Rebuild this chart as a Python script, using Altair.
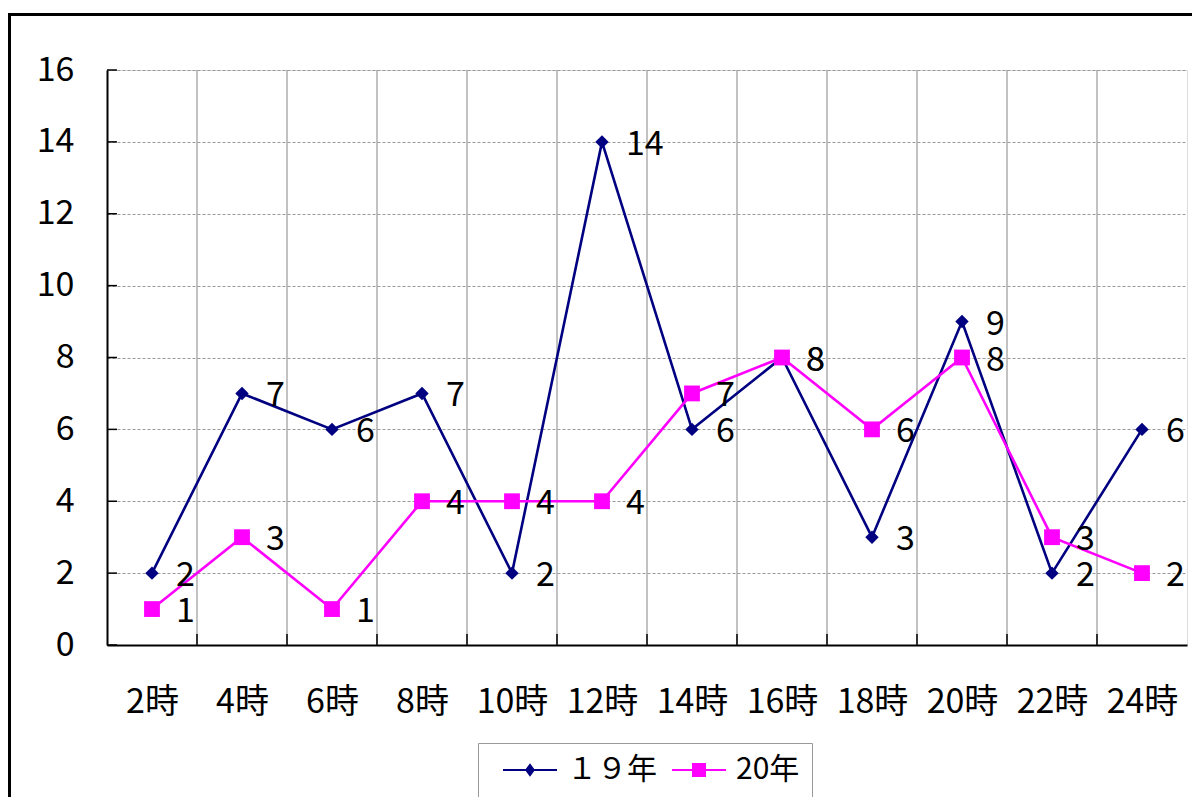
import altair as alt
import pandas as pd

hours = [2, 4, 6, 8, 10, 12, 14, 16, 18, 20, 22, 24]
series_names = ["１９年", "20年"]
values_19 = [2, 7, 6, 7, 2, 14, 6, 8, 3, 9, 2, 6]
values_20 = [1, 3, 1, 4, 4, 4, 7, 8, 6, 8, 3, 2]
y_ticks = [0, 2, 4, 6, 8, 10, 12, 14, 16]
boundaries = [3, 5, 7, 9, 11, 13, 15, 17, 19, 21, 23]
colors = ["#000080", "#FF00FF"]

FONT = "Noto Sans CJK JP"

rows = []
for h, v in zip(hours, values_19):
    rows.append({"hour": h, "series": series_names[0], "value": v})
for h, v in zip(hours, values_20):
    rows.append({"hour": h, "series": series_names[1], "value": v})
df = pd.DataFrame(rows)

W, H = 1080, 575

x_scale = alt.Scale(domain=[1, 25], nice=False, zero=False)
y_scale = alt.Scale(domain=[0, 16], nice=False)

x_axis = alt.Axis(
    values=hours,
    labelExpr="datum.value + '時'",
    grid=False,
    ticks=False,
    domainColor="black",
    domainWidth=2,
    labelFontSize=34,
    labelPadding=40,
    labelFont=FONT,
    labelColor="black",
    title=None,
)
y_axis = alt.Axis(
    values=y_ticks,
    grid=True,
    gridDash=[3, 2],
    gridColor="#999999",
    gridWidth=1,
    ticks=False,
    domainColor="black",
    domainWidth=2,
    labelFontSize=34,
    labelPadding=33,
    labelFont=FONT,
    labelColor="black",
    title=None,
)


def X(field):
    return alt.X(field, scale=x_scale, axis=x_axis, title=None)


def Y(field):
    return alt.Y(field, scale=y_scale, axis=y_axis, title=None)


base = alt.Chart(df)

# vertical grid lines at category boundaries
vgrid = alt.Chart(pd.DataFrame({"hour": boundaries})).mark_rule(
    color="#999999", strokeWidth=1.2
).encode(x=X("hour:Q"))

# inward ticks
ytick_marks = alt.Chart(pd.DataFrame({"value": y_ticks})).mark_rule(
    color="black", strokeWidth=1.5
).encode(y=Y("value:Q"), x=alt.value(0), x2=alt.value(10))
xtick_marks = alt.Chart(pd.DataFrame({"hour": boundaries})).mark_rule(
    color="black", strokeWidth=1.5
).encode(x=X("hour:Q"), y=alt.value(H), y2=alt.value(H - 11))

layers = []
shapes = ["diamond", "square"]
sizes = [180, 250]
for name, col, shp, sz in zip(series_names, colors, shapes, sizes):
    sub = base.transform_filter(alt.datum.series == name)
    layers.append(
        sub.mark_line(strokeWidth=2.6, color=col).encode(x=X("hour:Q"), y=Y("value:Q"))
    )
for name, col, shp, sz in zip(series_names, colors, shapes, sizes):
    sub = base.transform_filter(alt.datum.series == name)
    layers.append(
        sub.mark_point(shape=shp, filled=True, size=sz, opacity=1, color=col).encode(
            x=X("hour:Q"), y=Y("value:Q")
        )
    )

labels = base.mark_text(
    align="left", baseline="middle", dx=24, dy=3, fontSize=34, font=FONT, color="black"
).encode(x=X("hour:Q"), y=Y("value:Q"), text="value:Q")

# legend symbols: line with marker (unit = 15px for symbolSize 900)
legend_shapes = [
    "M-0.133,-0.07H3.467V0.07H-0.133Z M1.667,-0.45L2.0,0L1.667,0.45L1.333,0Z",
    "M-0.133,-0.07H3.467V0.07H-0.133Z M1.2,-0.467H2.133V0.467H1.2Z",
]
legend_props = dict(
    title=None,
    orient="none",
    legendX=371,
    legendY=673,
    direction="horizontal",
    symbolOpacity=1,
    symbolSize=900,
    symbolStrokeWidth=0,
    labelFontSize=30,
    labelFont=FONT,
    labelColor="black",
    labelOffset=47,
    columnPadding=2,
    padding=12,
    strokeColor="#999999",
    fillColor="white",
)
legend_layer = base.mark_point(filled=True, opacity=0).encode(
    x=X("hour:Q"),
    y=Y("value:Q"),
    color=alt.Color(
        "series:N",
        scale=alt.Scale(domain=series_names, range=colors),
        legend=alt.Legend(**legend_props),
    ),
    shape=alt.Shape(
        "series:N",
        scale=alt.Scale(domain=series_names, range=legend_shapes),
        legend=alt.Legend(**legend_props),
    ),
)

frame = alt.Chart(pd.DataFrame({"a": [0]})).mark_rect(
    fillOpacity=0, stroke="black", strokeWidth=3
).encode(
    x=alt.value(-97.5), x2=alt.value(1300), y=alt.value(-55.5), y2=alt.value(900)
)

chart = alt.layer(
    vgrid, *layers, labels, ytick_marks, xtick_marks, legend_layer, frame
).properties(
    width=W,
    height=H,
    autosize=alt.AutoSizeParams(type="none"),
    padding={"left": 99, "top": 62, "right": 5, "bottom": 152},
).configure_view(
    stroke="#808080", strokeWidth=3
).configure(
    font=FONT, background="white"
)

chart.save("out.html", embed_options={"renderer": "svg", "actions": False})
